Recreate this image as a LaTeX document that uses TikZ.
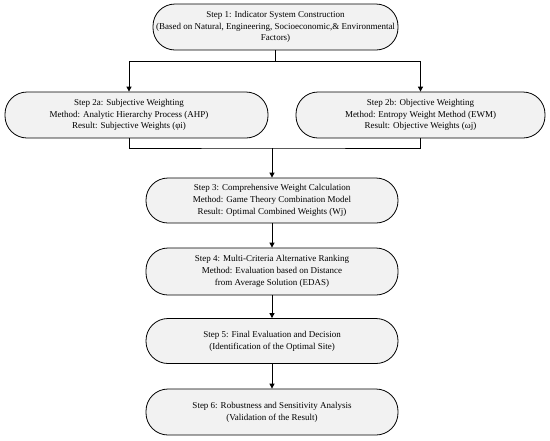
\documentclass[tikz,border=0pt]{standalone}
\usepackage{fontspec}
\setmainfont{Liberation Serif}
\usetikzlibrary{arrows.meta}
\begin{document}
\begin{tikzpicture}[x=1pt,y=-1pt,
  stepbox/.style={draw=black,line width=0.8pt,fill=gray!10,rounded corners=22pt,
    align=center,font=\fontsize{9}{11.7}\selectfont,inner sep=0pt},
  steptext/.style={align=center,font=\fontsize{9}{11.7}\selectfont,inner sep=0pt},
  conn/.style={line width=0.9pt,draw=black},
  arr/.style={conn,-{Triangle[width=5pt,length=5pt]}}]
\useasboundingbox (0,0) rectangle (550,440);
\node[stepbox,minimum width=245pt,minimum height=46pt] (s1) at (275.5,27) {Step 1: Indicator System Construction\\(Based on Natural, Engineering, Socioeconomic,\& Environmental\\Factors)};
\node[stepbox,minimum width=263pt,minimum height=46pt] (s2a) at (136.5,115) {};
\node[steptext] (t2a) at (129,115) {Step 2a: Subjective Weighting\\Method: Analytic Hierarchy Process (AHP)\\Result: Subjective Weights (φi)};
\node[stepbox,minimum width=249pt,minimum height=46pt] (s2b) at (420.5,115) {Step 2b: Objective Weighting\\Method: Entropy Weight Method (EWM)\\Result: Objective Weights (ωj)};
\node[stepbox,minimum width=252pt,minimum height=45pt] (s3) at (272,200.5) {Step 3: Comprehensive Weight Calculation\\Method: Game Theory Combination Model\\Result: Optimal Combined Weights (Wj)};
\node[stepbox,minimum width=252pt,minimum height=47pt] (s4) at (272,271.5) {Step 4: Multi-Criteria Alternative Ranking\\Method: Evaluation based on Distance\\from Average Solution (EDAS)};
\node[stepbox,minimum width=252pt,minimum height=45pt] (s5) at (272,341) {Step 5: Final Evaluation and Decision\\(Identification of the Optimal Site)};
\node[stepbox,minimum width=252pt,minimum height=46pt] (s6) at (272,412) {Step 6: Robustness and Sensitivity Analysis\\(Validation of the Result)};
\coordinate (j1) at (275.5,61);
\coordinate (j2) at (272,148);
\draw[conn] (s1.south) -- (j1);
\draw[arr] (j1) -| (s2a.north -| t2a);
\draw[arr] (j1) -| (s2b.north);
\draw[conn] (s2a.south -| t2a) |- (j2) -| (s2b.south);
\draw[arr] (j2) -- (s3.north);
\draw[arr] (s3.south) -- (s4.north);
\draw[arr] (s4.south) -- (s5.north);
\draw[arr] (s5.south) -- (s6.north);
\end{tikzpicture}
\end{document}
